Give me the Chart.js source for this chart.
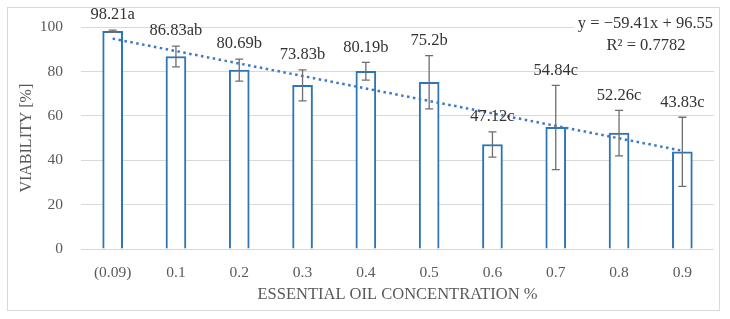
<!DOCTYPE html>
<html>
<head>
<meta charset="utf-8">
<script src="https://cdn.jsdelivr.net/npm/chart.js@4"></script>
<style>
  html, body { margin: 0; padding: 0; background: #fff; }
  #wrap { width: 730px; height: 319px; }
</style>
</head>
<body>
<div id="wrap"><canvas id="viabilityChart" width="730" height="319"></canvas></div>
<script>
// data
const concentrations = ['(0.09)', '0.1', '0.2', '0.3', '0.4', '0.5', '0.6', '0.7', '0.8', '0.9'];
const viability = [98.21, 86.83, 80.69, 73.83, 80.19, 75.2, 47.12, 54.84, 52.26, 43.83];
const viabilityError = [0.5, 4.7, 5.0, 7.0, 4.0, 12.0, 5.7, 19.0, 10.3, 15.6];
const significance = ['a', 'ab', 'b', 'b', 'b', 'b', 'c', 'c', 'c', 'c'];
const trendValues = [94.9, null, null, null, null, null, null, null, null, 44.3];
const trendEquation = 'y = \u221259.41x + 96.55';
const trendR2 = 'R\u00b2 = 0.7782';

const serif = 'Liberation Serif';
const barBlue = '#2E75B6';
const gridGray = '#d9d9d9';

const frameAndErrors = {
    id: 'frameAndErrors',
    beforeDraw(chart) {
        const ctx = chart.ctx;
        ctx.save();
        ctx.fillStyle = '#fff';
        ctx.fillRect(0, 0, chart.width, chart.height);
        ctx.strokeStyle = gridGray;
        ctx.lineWidth = 1;
        ctx.strokeRect(7.5, 7.5, 712, 303);
        ctx.restore();
    },
    afterDatasetsDraw(chart) {
        const ctx = chart.ctx;
        const y = chart.scales.y;
        const bars = chart.getDatasetMeta(0).data;
        ctx.save();
        // error bars
        ctx.strokeStyle = '#6e6e6e';
        ctx.lineWidth = 1.3;
        bars.forEach((bar, i) => {
            const top = y.getPixelForValue(viability[i] + viabilityError[i]);
            const bot = y.getPixelForValue(viability[i] - viabilityError[i]);
            ctx.beginPath();
            ctx.moveTo(bar.x, top); ctx.lineTo(bar.x, bot);
            ctx.moveTo(bar.x - 4, top); ctx.lineTo(bar.x + 4, top);
            ctx.moveTo(bar.x - 4, bot); ctx.lineTo(bar.x + 4, bot);
            ctx.stroke();
        });
        // value labels
        ctx.fillStyle = '#333';
        ctx.font = '16.5px "' + serif + '"';
        ctx.textAlign = 'center';
        ctx.textBaseline = 'middle';
        bars.forEach((bar, i) => {
            const top = y.getPixelForValue(viability[i] + viabilityError[i]);
            ctx.fillText(viability[i] + significance[i], bar.x, top - 15);
        });
        // trendline equation box
        const area = chart.chartArea;
        ctx.fillStyle = '#fff';
        ctx.fillRect(574, 12, area.right - 574, 46);
        ctx.fillStyle = '#333';
        ctx.textAlign = 'right';
        ctx.fillText(trendEquation, area.right - 1, 24);
        ctx.textAlign = 'center';
        ctx.fillText(trendR2, 646, 46);
        ctx.restore();
    }
};

new Chart(document.getElementById('viabilityChart').getContext('2d'), {
    type: 'bar',
    data: {
        labels: concentrations,
        datasets: [
            {
                type: 'bar',
                data: viability,
                backgroundColor: '#fff',
                borderColor: barBlue,
                borderWidth: 2,
                borderSkipped: 'start',
                barThickness: 20,
                order: 2
            },
            {
                type: 'line',
                data: trendValues,
                spanGaps: true,
                borderColor: '#3d78c2',
                borderWidth: 2.5,
                borderDash: [2.5, 3.5],
                pointRadius: 0,
                fill: false,
                order: 1
            }
        ]
    },
    options: {
        responsive: false,
        animation: false,
        layout: { padding: { top: 27, right: 16, left: 0, bottom: 0 } },
        plugins: {
            legend: { display: false },
            tooltip: { enabled: false }
        },
        scales: {
            x: {
                grid: { display: false, drawTicks: false },
                border: { display: false },
                ticks: { color: '#595959', padding: 15, font: { family: serif, size: 15.5 } },
                title: {
                    display: true,
                    text: 'ESSENTIAL OIL CONCENTRATION %',
                    color: '#595959',
                    font: { family: serif, size: 16.5 },
                    padding: { top: 0, bottom: 14 }
                },
                afterFit(scale) { scale.height = 70; }
            },
            y: {
                min: 0,
                max: 100,
                ticks: { stepSize: 20, color: '#595959', padding: 18, font: { family: serif, size: 15.5 } },
                grid: { color: gridGray, lineWidth: 1, drawTicks: false },
                border: { display: false },
                title: {
                    display: true,
                    text: 'VIABILITY [%]',
                    color: '#595959',
                    font: { family: serif, size: 16 },
                    padding: { top: 17, bottom: 0 }
                },
                afterFit(scale) { scale.width = 81; }
            }
        }
    },
    plugins: [frameAndErrors]
});
</script>
</body>
</html>
